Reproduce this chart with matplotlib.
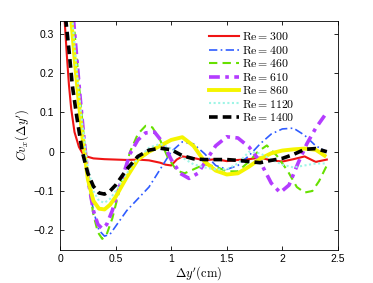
import matplotlib
matplotlib.use("Agg")
import matplotlib.pyplot as plt

plt.rcParams['mathtext.fontset'] = 'cm'
plt.rcParams['font.family'] = ['Liberation Sans', 'DejaVu Sans']

# Re = 300
x300 = [0.04, 0.06, 0.08, 0.1, 0.13, 0.17, 0.2, 0.25, 0.3, 0.4, 0.5, 0.6, 0.7, 0.8, 0.9, 0.95, 1.0,
        1.05, 1.1, 1.2, 1.3, 1.4, 1.5, 1.6, 1.7, 1.8, 1.9, 2.0, 2.1, 2.2, 2.3, 2.4]
y300 = [0.34, 0.25, 0.17, 0.11, 0.05, 0.012, -0.003, -0.013, -0.017, -0.019, -0.02, -0.021, -0.02, -0.022,
        -0.028, -0.033, -0.035, -0.02, -0.012, -0.016, -0.022, -0.019, -0.024, -0.021, -0.019, -0.015,
        -0.022, -0.025, -0.019, -0.012, -0.026, -0.02]
# Re = 400
x400 = [0.1, 0.13, 0.16, 0.2, 0.25, 0.3, 0.35, 0.4, 0.45, 0.5, 0.6, 0.7, 0.8, 0.9, 1.0, 1.1, 1.2, 1.3,
        1.4, 1.5, 1.6, 1.7, 1.8, 1.9, 2.0, 2.1, 2.2, 2.3, 2.4]
y400 = [0.34, 0.25, 0.15, 0.04, -0.07, -0.15, -0.2, -0.215, -0.21, -0.19, -0.15, -0.12, -0.09, -0.045,
        0.0, 0.025, 0.02, -0.005, -0.035, -0.045, -0.035, -0.01, 0.02, 0.045, 0.058, 0.06, 0.042, 0.015, 0.0]
# Re = 460
x460 = [0.12, 0.15, 0.18, 0.22, 0.26, 0.3, 0.34, 0.38, 0.42, 0.47, 0.55, 0.63, 0.7, 0.77, 0.83, 0.9,
        0.97, 1.05, 1.12, 1.2, 1.3, 1.4, 1.5, 1.6, 1.7, 1.78, 1.86, 1.95, 2.05, 2.13, 2.2, 2.27, 2.33, 2.4]
y460 = [0.34, 0.24, 0.14, 0.02, -0.09, -0.16, -0.205, -0.222, -0.21, -0.17, -0.08, 0.0, 0.045, 0.066,
        0.062, 0.03, -0.015, -0.048, -0.055, -0.045, -0.032, -0.038, -0.05, -0.05, -0.025, 0.0, 0.016,
        -0.01, -0.05, -0.09, -0.104, -0.1, -0.075, -0.035]
# Re = 610
x610 = [0.12, 0.15, 0.18, 0.22, 0.26, 0.3, 0.34, 0.38, 0.42, 0.47, 0.55, 0.63, 0.7, 0.77, 0.85, 0.92,
        1.0, 1.08, 1.16, 1.24, 1.32, 1.4, 1.5, 1.6, 1.7, 1.8, 1.9, 1.98, 2.06, 2.14, 2.22, 2.3, 2.38]
y610 = [0.34, 0.24, 0.14, 0.02, -0.085, -0.15, -0.185, -0.196, -0.185, -0.15, -0.075, -0.005, 0.03,
        0.048, 0.05, 0.025, -0.02, -0.055, -0.068, -0.055, -0.02, 0.015, 0.038, 0.035, 0.012, -0.025,
        -0.08, -0.104, -0.085, -0.03, 0.02, 0.06, 0.092]
# Re = 860
x860 = [0.1, 0.13, 0.16, 0.2, 0.25, 0.3, 0.35, 0.4, 0.45, 0.5, 0.6, 0.7, 0.8, 0.9, 1.0, 1.1, 1.2, 1.3,
        1.4, 1.5, 1.6, 1.7, 1.8, 1.9, 2.0, 2.1, 2.2, 2.3, 2.38]
y860 = [0.34, 0.24, 0.15, 0.04, -0.07, -0.125, -0.145, -0.147, -0.135, -0.115, -0.065, -0.02, 0.0, 0.015,
        0.03, 0.037, 0.015, -0.025, -0.048, -0.058, -0.055, -0.038, -0.018, -0.004, 0.003, 0.006, 0.008,
        0.005, -0.01]
# Re = 1120
x1120 = [0.11, 0.14, 0.17, 0.2, 0.25, 0.3, 0.35, 0.4, 0.45, 0.5, 0.6, 0.7, 0.8, 0.9, 1.0, 1.1, 1.2, 1.3,
         1.4, 1.5, 1.6, 1.7, 1.8, 1.9, 2.0, 2.1, 2.2, 2.3, 2.4]
y1120 = [0.34, 0.24, 0.15, 0.07, -0.04, -0.1, -0.125, -0.13, -0.12, -0.1, -0.055, -0.018, 0.01, 0.02,
         0.008, -0.015, -0.032, -0.04, -0.045, -0.045, -0.03, 0.0, -0.004, -0.02, -0.033, -0.04, -0.035,
         -0.03, -0.03]
# Re = 1400
x1400 = [0.05, 0.08, 0.11, 0.15, 0.2, 0.25, 0.3, 0.35, 0.4, 0.45, 0.5, 0.6, 0.7, 0.8, 0.9, 1.0, 1.1,
         1.2, 1.3, 1.4, 1.5, 1.6, 1.7, 1.8, 1.9, 2.0, 2.1, 2.2, 2.3, 2.4]
y1400 = [0.34, 0.26, 0.17, 0.09, 0.0, -0.055, -0.088, -0.105, -0.108, -0.1, -0.085, -0.045, -0.012,
         0.004, 0.009, 0.005, -0.01, -0.018, -0.02, -0.02, -0.02, -0.022, -0.025, -0.028, -0.022, -0.017,
         -0.007, 0.006, 0.008, 0.0]

fig = plt.figure(figsize=(3.73, 2.83), dpi=100)
ax = fig.add_axes([0.161, 0.117, 0.745, 0.809])

ax.plot(x300, y300, color='#f01414', lw=1.5, label=r'$\mathrm{Re} = 300$')
ax.plot(x400, y400, color='#2f5cff', lw=1.2, ls=(0, (5, 2, 1, 2)), label=r'$\mathrm{Re} = 400$')
ax.plot(x460, y460, color='#66e000', lw=1.5, ls=(0, (4, 2.5)), label=r'$\mathrm{Re} = 460$')
ax.plot(x610, y610, color='#b43cff', lw=2.6, ls=(0, (3, 1.5, 1, 1.5)), label=r'$\mathrm{Re} = 610$')
ax.plot(x860, y860, color='#f5f500', lw=2.8, label=r'$\mathrm{Re} = 860$')
ax.plot(x1120, y1120, color='#9ff5e6', lw=1.5, ls=(0, (1, 1.2)), label=r'$\mathrm{Re} = 1120$')
ax.plot(x1400, y1400, color='black', lw=2.6, ls=(0, (2.4, 1.4)), label=r'$\mathrm{Re} = 1400$')

ax.set_xlim(0, 2.5)
ax.set_ylim(-0.25, 0.333)
ax.set_xticks([0, 0.5, 1, 1.5, 2, 2.5])
ax.set_xticklabels(['0', '0.5', '1', '1.5', '2', '2.5'])
ax.set_yticks([-0.2, -0.1, 0, 0.1, 0.2, 0.3])
ax.set_yticklabels(['\u22120.2', '\u22120.1', '0', '0.1', '0.2', '0.3'])
ax.tick_params(direction='in', top=True, right=True, labelsize=7.5, length=3, width=0.6)
ax.tick_params(axis='x', pad=3)
ax.tick_params(axis='y', pad=4)
for s in ax.spines.values():
    s.set_linewidth(0.6)

ax.set_xlabel(r"$\Delta y'(\mathrm{cm})$", fontsize=9, labelpad=0)
ax.set_ylabel(r"$Cv_x(\Delta y')$", fontsize=9, labelpad=2)

ax.legend(loc='upper right', bbox_to_anchor=(0.872, 0.99), frameon=False, fontsize=8.5,
          handlelength=2.6, handletextpad=0.2, labelspacing=0.12, borderpad=0.2)

fig.savefig('out.png', dpi=100)
